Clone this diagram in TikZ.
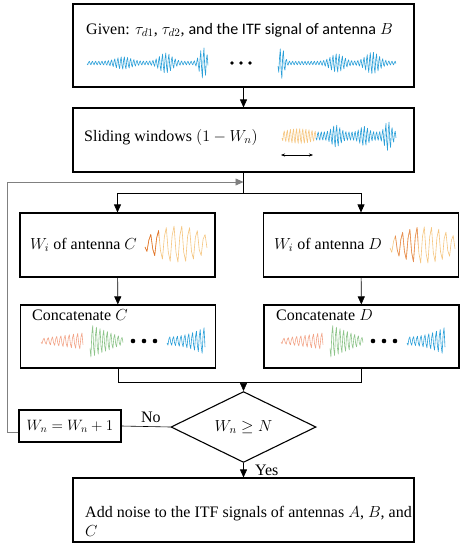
\RequirePackage{fix-cm}
\documentclass[tikz,border=0pt]{standalone}
\usepackage{fontspec}
\setmainfont{Liberation Serif}
\newfontfamily\calibri{Carlito}
\usetikzlibrary{shapes.geometric,arrows.meta}

\definecolor{sigblue}{HTML}{2A9FD8}
\definecolor{sigtan}{HTML}{F5C57E}
\definecolor{sigorange}{HTML}{E0702A}
\definecolor{sigsalmon}{HTML}{F2A488}
\definecolor{siggreen}{HTML}{8DC48A}

\tikzset{
  box/.style={draw, line width=1.1pt, inner sep=0pt},
  txt/.style={anchor=west, inner sep=0pt, font=\fontsize{16}{19}\selectfont},
  link/.style={line width=0.6pt},
  >={Triangle[length=8pt,width=7pt]},
}

% signal burst: x0, x1, yc, amp, cycles, envelope, colour
\newcommand{\sig}[7]{%
  \pgfmathtruncatemacro{\ns}{4*(#5)+1}%
  \draw[#7, line width=0.6pt, line join=round]
    plot[domain=0:1, samples=\ns] ({(#1)+\x*((#2)-(#1))}, {(#3)+(#4)*(#6)*sin(\x*(#5)*360+25)});}

\begin{document}
\begin{tikzpicture}[x=1pt,y=-1pt]
    \useasboundingbox (0,0) rectangle (466,550);
    % boxes
    \node[box, minimum width=341pt, minimum height=83pt] (given) at (243.5,45.5) {};
    \node[box, minimum width=341pt, minimum height=64pt] (slide) at (243.5,140) {};
    \node[box, minimum width=195pt, minimum height=64pt] (wic) at (117.5,245) {};
    \node[box, minimum width=195pt, minimum height=64pt] (wid) at (361,245) {};
    \node[box, minimum width=195pt, minimum height=63pt] (catc) at (118,336.5) {};
    \node[box, minimum width=195pt, minimum height=63pt] (catd) at (361.5,336.5) {};
    \node[box, diamond, minimum width=145pt, minimum height=61pt,
          font=\fontsize{16}{19}\selectfont] (test) at (243.5,427) {$W_n \geq N$};
    \node[box, minimum width=102pt, minimum height=32pt,
          font=\fontsize{15}{18}\selectfont] (inc) at (70,426) {$W_n = W_n + 1$};
    \node[box, minimum width=341pt, minimum height=64pt] (final) at (243.5,510) {};

    % texts
    \node[txt] (giventxt) at (86,30) {Given: $\tau_{d1}$, $\tau_{d2}$, {\calibri and the ITF signal of antenna} $B$};
    \node[txt] (slidetxt) at (84,137) {Sliding windows $(1 - W_n)$};
    \node[txt] (wictxt) at (30,245) {$W_i$ of antenna $C$};
    \node[txt] (widtxt) at (274,245) {$W_i$ of antenna $D$};
    \node[txt] (catctxt) at (32,315) {Concatenate $C$};
    \node[txt] (catdtxt) at (276,315) {Concatenate $D$};
    \node[txt, align=left] (finaltxt) at (85,521) {Add noise to the ITF signals of antennas $A$, $B$, and\\$C$};

    % signals in the top box
    \sig{87}{208}{63}{16}{38}{0.12+0.3*exp(-(\x-0.3)*(\x-0.3)/0.008)+0.55*exp(-(\x-0.65)*(\x-0.65)/0.005)+0.9*exp(-(\x-0.96)*(\x-0.96)/0.0015)}{sigblue}
    \foreach \d in {232,241,250} \fill (\d,63) circle (1.8);
    \sig{278}{396}{63}{16}{38}{0.12+0.95*exp(-(\x-0.03)*(\x-0.03)/0.0009)+0.5*exp(-(\x-0.5)*(\x-0.5)/0.006)+0.6*exp(-(\x-0.8)*(\x-0.8)/0.006)}{sigblue}

    % sliding window
    \sig{282}{316}{136}{9}{11}{0.55+0.35*sin(\x*180)}{sigtan}
    \sig{316}{396}{136}{15}{26}{0.3+0.5*exp(-(\x-0.25)*(\x-0.25)/0.005)+0.4*exp(-(\x-0.6)*(\x-0.6)/0.005)+0.75*exp(-(\x-0.9)*(\x-0.9)/0.003)}{sigblue}
    \draw[<->, >={Stealth[length=4pt]}] (281,155) -- (313,155);

    % windows
    \sig{145}{207}{244}{20}{8}{0.35+0.65*sin(\x*170)}{sigtan}
    \begin{scope}
      \clip (142,215) rectangle (159,275);
      \sig{145}{207}{244}{20}{8}{0.35+0.65*sin(\x*170)}{sigorange}
    \end{scope}
    \sig{390}{455}{245}{20}{9}{0.35+0.65*sin(\x*170)}{sigtan}
    \begin{scope}
      \clip (395,215) rectangle (418,275);
      \sig{390}{455}{245}{20}{9}{0.35+0.65*sin(\x*170)}{sigorange!80}
    \end{scope}

    % concatenated signals
    \foreach \s in {0,240} {
      \sig{41+\s}{83+\s}{341}{9}{10}{0.3+0.7*\x}{sigsalmon}
      \sig{90+\s}{123+\s}{341}{18}{9}{1-0.8*\x}{siggreen}
      \foreach \d in {133,144,155} \fill (\d+\s,341) circle (2.3);
      \sig{167+\s}{205+\s}{341}{15}{10}{0.3+0.7*\x*\x}{sigblue}
    }

    % connectors
    \coordinate (loop) at (243.5,182);
    \coordinate (fork) at (243.5,193);
    \coordinate (join) at (243.5,382);
    \draw[link, ->] (given) -- (slide);
    \draw[link] (slide) -- (fork);
    \draw[link, ->] (fork) -| (wic.north);
    \draw[link, ->] (fork) -| (wid.north);
    \draw[link, ->] (wic) -- (catc);
    \draw[link, ->] (wid) -- (catd);
    \draw[link] (catc.south) |- (join);
    \draw[link] (catd.south) |- (join);
    \draw[link, ->] (join) -- (test.north);
    \draw[link] (test.west) -- node[pos=0.4, above, font=\fontsize{16}{19}\selectfont] (no) {No} (inc.east);
    \draw[link, ->, gray] ([yshift=-6pt]inc.west) -- ++(-11,0) |- (loop);
    \draw[link, ->] (test.south) -- node[right, xshift=8pt, font=\fontsize{16}{19}\selectfont] (yes) {Yes} (final.north);
\end{tikzpicture}
\end{document}
